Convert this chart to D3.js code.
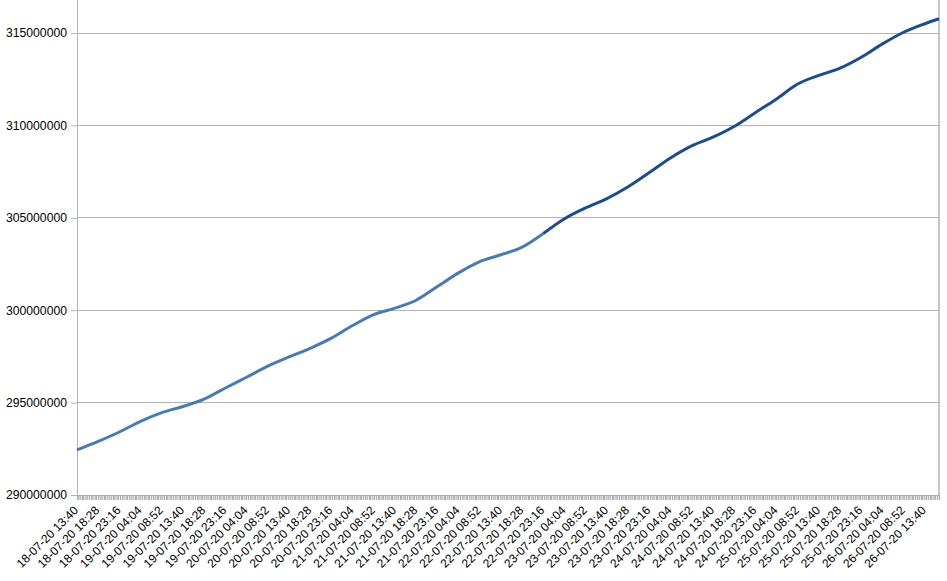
<!DOCTYPE html>
<html><head><meta charset="utf-8">
<script src="https://cdn.jsdelivr.net/npm/d3@7"></script>
<style>
html,body{margin:0;padding:0;background:#fff;}
svg{display:block;font-family:"Liberation Sans",Arial,sans-serif;}
</style></head>
<body><svg id="c" width="947" height="581"></svg>
<script>
const times = ["18-07-20 13:40","18-07-20 18:28","18-07-20 23:16","19-07-20 04:04","19-07-20 08:52",
"19-07-20 13:40","19-07-20 18:28","19-07-20 23:16","20-07-20 04:04","20-07-20 08:52",
"20-07-20 13:40","20-07-20 18:28","20-07-20 23:16","21-07-20 04:04","21-07-20 08:52",
"21-07-20 13:40","21-07-20 18:28","21-07-20 23:16","22-07-20 04:04","22-07-20 08:52",
"22-07-20 13:40","22-07-20 18:28","22-07-20 23:16","23-07-20 04:04","23-07-20 08:52",
"23-07-20 13:40","23-07-20 18:28","23-07-20 23:16","24-07-20 04:04","24-07-20 08:52",
"24-07-20 13:40","24-07-20 18:28","24-07-20 23:16","25-07-20 04:04","25-07-20 08:52",
"25-07-20 13:40","25-07-20 18:28","25-07-20 23:16","26-07-20 04:04","26-07-20 08:52",
"26-07-20 13:40","26-07-20 16:52"];
const values = [292.44,292.90,293.41,293.99,294.46,294.79,295.19,295.79,296.37,296.97,
297.47,297.94,298.49,299.17,299.76,300.11,300.54,301.28,302.02,302.63,
303.00,303.41,304.15,304.95,305.54,306.04,306.68,307.45,308.24,308.89,
309.36,309.94,310.69,311.43,312.24,312.71,313.10,313.69,314.41,315.04,
315.50,315.77].map(v=>v*1e6);
const tickLabels = times.slice(0,41);
const yTicks = [290000000,295000000,300000000,305000000,310000000,315000000];
const splitIndex = 22;

const parse = d3.timeParse("%d-%m-%y %H:%M");
const data = times.map((t,i)=>({t:parse(t), v:values[i]}));

const L=77, R=939, B=495;
const svg = d3.select("#c");
const x = d3.scaleTime().domain([data[0].t, data[data.length-1].t]).range([L,R]);
const y = d3.scaleLinear().domain([290e6,315e6]).range([B,33]);
const grid="#b3b3b3";

// gridlines
svg.append("g").selectAll("line").data(yTicks.slice(1)).join("line")
  .attr("x1",L).attr("x2",R).attr("y1",d=>y(d)).attr("y2",d=>y(d))
  .attr("stroke",grid).attr("stroke-width",1).attr("shape-rendering","crispEdges");

// y axis
const ya = svg.append("g").attr("transform",`translate(${L},0)`)
  .call(d3.axisLeft(y).tickValues(yTicks).tickSize(6).tickPadding(4).tickFormat(d3.format("d")));
ya.select(".domain").remove();
ya.selectAll(".tick line").attr("stroke",grid);
ya.selectAll("text").attr("font-size",12.2).attr("fill","#000").attr("font-family","Liberation Sans, Arial, sans-serif");
svg.append("line").attr("x1",L).attr("x2",L).attr("y1",0).attr("y2",B+1)
  .attr("stroke",grid).attr("shape-rendering","crispEdges");
svg.append("line").attr("x1",R).attr("x2",R).attr("y1",0).attr("y2",B+1)
  .attr("stroke",grid).attr("stroke-width",1.5);

// minor x ticks
const minor = d3.timeMinute.every(24).range(data[0].t, data[data.length-1].t);
const xm = svg.append("g").attr("transform",`translate(0,${B})`)
  .call(d3.axisBottom(x).tickValues(minor).tickSize(5).tickFormat(""));
xm.select(".domain").attr("stroke",grid);
xm.selectAll(".tick line").attr("stroke","#aaa").attr("stroke-width",1);

// x labels
const labT = tickLabels.map(parse);
svg.append("g").selectAll("text").data(labT).join("text")
  .attr("transform",(d)=>`translate(${x(d)-1},${B+13}) rotate(-45)`)
  .attr("text-anchor","end").attr("dy","0.35em")
  .attr("font-size",12).attr("fill","#000")
  .text((d,i)=>tickLabels[i]);

// line
const line = d3.line().x(d=>x(d.t)).y(d=>y(d.v)).curve(d3.curveMonotoneX);
svg.append("path").datum(data.slice(0,splitIndex+1)).attr("d",line)
  .attr("fill","none").attr("stroke","#4a7ab2").attr("stroke-width",3).attr("stroke-linejoin","round");
svg.append("path").datum(data.slice(splitIndex)).attr("d",line)
  .attr("fill","none").attr("stroke","#1b4d8d").attr("stroke-width",3).attr("stroke-linejoin","round");
</script></body></html>
